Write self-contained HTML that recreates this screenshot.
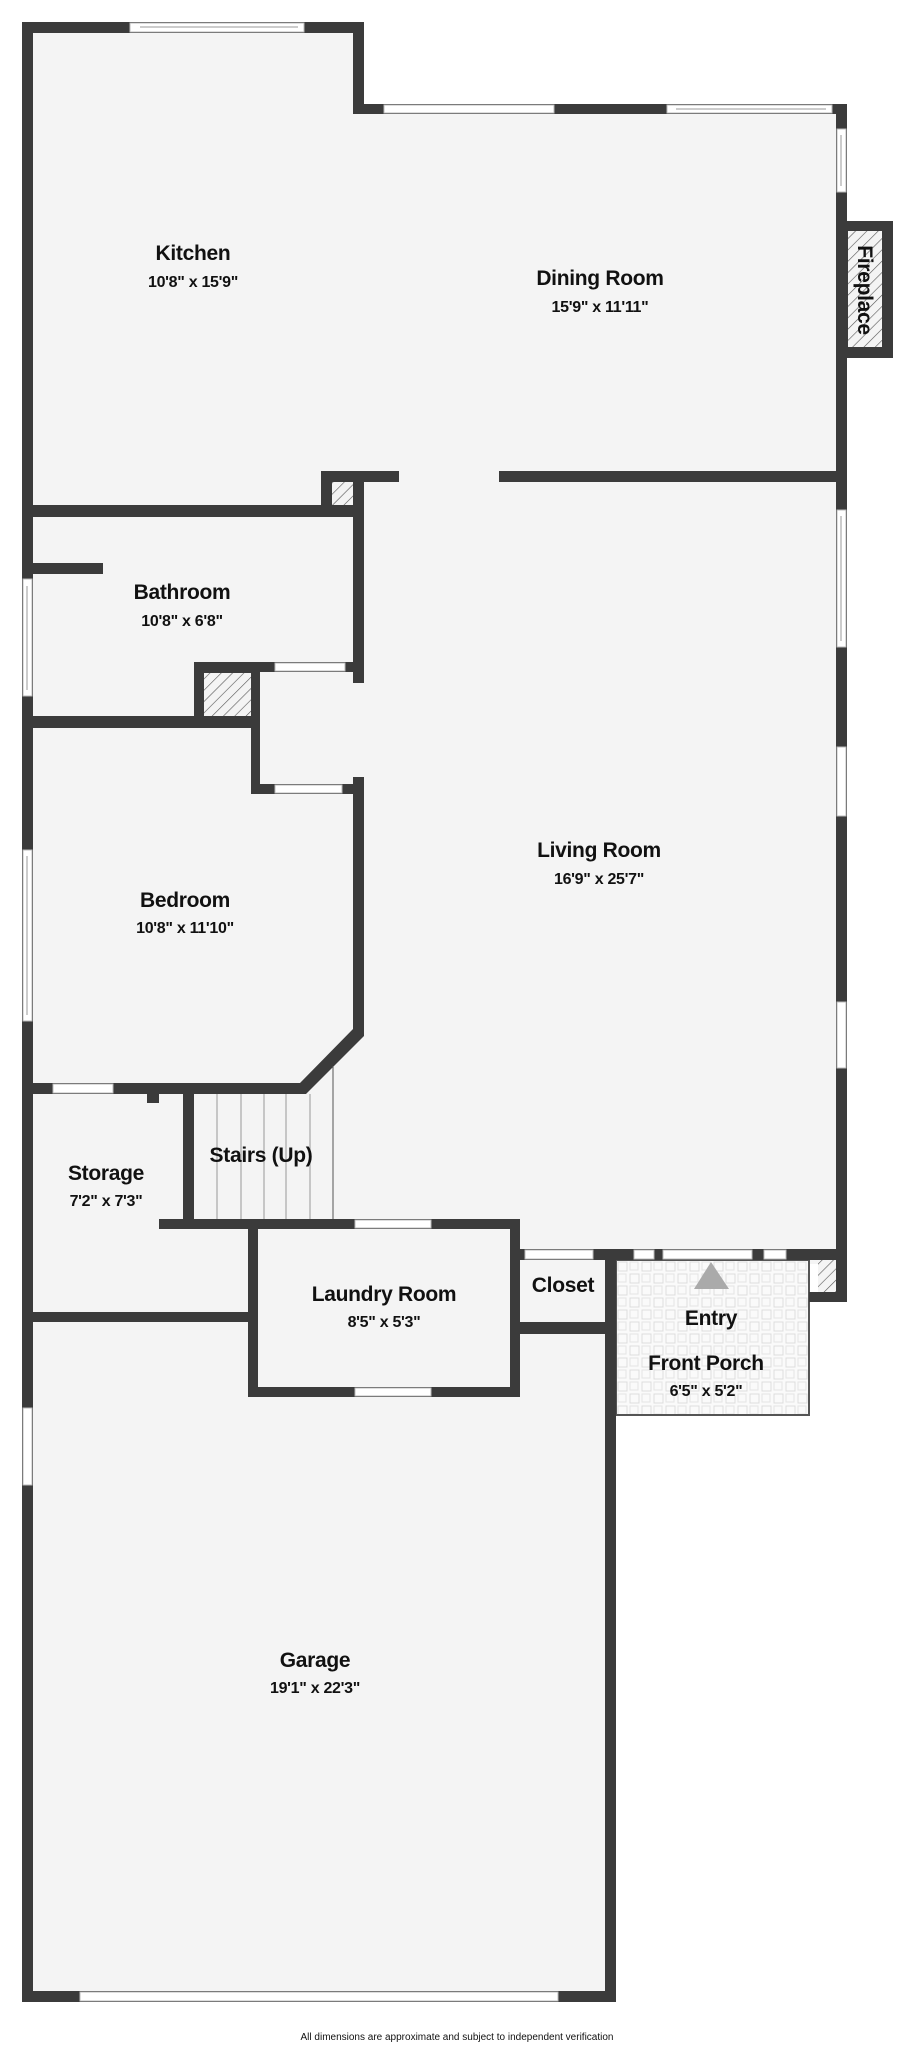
<!DOCTYPE html>
<html><head><meta charset="utf-8"><style>
html,body{margin:0;padding:0;background:#fff;}
svg{display:block;}
text{font-family:"Liberation Sans",sans-serif;font-weight:bold;fill:#111;text-anchor:middle;}
.n{font-size:21px;letter-spacing:-0.3px}
.d{font-size:16px;letter-spacing:-0.3px}
</style></head><body>
<svg width="916" height="2048" viewBox="0 0 916 2048" xmlns="http://www.w3.org/2000/svg">
<defs>
<pattern id="h" width="8" height="8" patternUnits="userSpaceOnUse" patternTransform="rotate(45)">
<rect width="8" height="8" fill="#f4f4f4"/><line x1="0" y1="0" x2="0" y2="8" stroke="#555" stroke-width="1.2"/>
</pattern>
<pattern id="t" width="24" height="24" patternUnits="userSpaceOnUse" x="616" y="1260">
<rect width="24" height="24" fill="#fafafa"/>
<rect x="2" y="2" width="9" height="9" fill="none" stroke="#ddd" stroke-width="1"/>
<rect x="14" y="14" width="9" height="9" fill="none" stroke="#ddd" stroke-width="1"/>
<rect x="14" y="2" width="8" height="8" fill="none" stroke="#e4e4e4" stroke-width="1"/>
<rect x="2" y="14" width="8" height="8" fill="none" stroke="#e4e4e4" stroke-width="1"/>
</pattern>
</defs>
<g fill="#f4f4f4">
<rect x="22" y="22" width="342" height="500"/>
<rect x="353" y="104" width="494" height="1160"/>
<rect x="22" y="505" width="342" height="830"/>
<rect x="22" y="1312" width="594" height="690"/>
<rect x="248" y="1219" width="272" height="178"/>
<rect x="510" y="1249" width="106" height="90"/>
</g>
<rect x="616" y="1260" width="193" height="155" fill="url(#t)" stroke="#555" stroke-width="2"/>
<polygon points="694,1289 711,1262 729,1289" fill="#aaa"/>
<g fill="#3b3b3b">
<rect x="22" y="22" width="11" height="1980"/>
<rect x="22" y="22" width="342" height="11"/>
<rect x="353" y="22" width="11" height="92"/>
<rect x="353" y="104" width="494" height="10"/>
<rect x="836" y="104" width="11" height="1198"/>
<rect x="841" y="221" width="52" height="137"/>
<rect x="321" y="471" width="78" height="11"/>
<rect x="499" y="471" width="348" height="11"/>
<rect x="321" y="471" width="11" height="46"/>
<rect x="22" y="505" width="342" height="12"/>
<rect x="353" y="471" width="11" height="212"/>
<rect x="22" y="563" width="81" height="11"/>
<rect x="194" y="662" width="159" height="10"/>
<rect x="194" y="662" width="66" height="66"/>
<rect x="22" y="716" width="238" height="12"/>
<rect x="251" y="662" width="9" height="132"/>
<rect x="251" y="784" width="113" height="10"/>
<polygon points="353,777 364,777 364,1036 306,1094 22,1094 22,1083 300,1083 353,1029"/>
<rect x="147" y="1090" width="12" height="13"/>
<rect x="183" y="1090" width="11" height="139"/>
<rect x="159" y="1219" width="361" height="10"/>
<rect x="248" y="1219" width="10" height="178"/>
<rect x="510" y="1219" width="10" height="178"/>
<rect x="248" y="1387" width="272" height="10"/>
<rect x="22" y="1312" width="236" height="10"/>
<rect x="510" y="1249" width="337" height="11"/>
<rect x="809" y="1292" width="38" height="10"/>
<rect x="510" y="1322" width="106" height="12"/>
<rect x="605" y="1249" width="11" height="753"/>
<rect x="22" y="1991" width="594" height="11"/>
</g>
<rect x="848" y="231" width="34" height="116" fill="url(#h)"/>
<rect x="332" y="482" width="21" height="23" fill="url(#h)"/>
<rect x="204" y="673" width="47" height="43" fill="url(#h)"/>
<rect x="818" y="1260" width="18" height="32" fill="url(#h)"/>
<g fill="#fff" stroke="#bbb" stroke-width="1">
<rect x="130" y="23" width="174" height="9"/>
<rect x="384" y="105" width="170" height="8"/>
<rect x="667" y="105" width="165" height="8"/>
<rect x="837" y="129" width="9" height="63"/>
<rect x="837" y="510" width="9" height="137"/>
<rect x="837" y="747" width="9" height="69"/>
<rect x="837" y="1002" width="9" height="66"/>
<rect x="23" y="579" width="9" height="117"/>
<rect x="23" y="850" width="9" height="171"/>
<rect x="23" y="1408" width="9" height="77"/>
<rect x="275" y="663" width="70" height="8"/>
<rect x="275" y="785" width="67" height="8"/>
<rect x="53" y="1084" width="60" height="9"/>
<rect x="355" y="1220" width="76" height="8"/>
<rect x="355" y="1388" width="76" height="8"/>
<rect x="525" y="1250" width="68" height="9"/>
<rect x="634" y="1250" width="20" height="9"/>
<rect x="663" y="1250" width="89" height="9"/>
<rect x="764" y="1250" width="22" height="9"/>
<rect x="80" y="1992" width="478" height="9"/>
</g>
<g stroke="#999" stroke-width="1">
<line x1="140" y1="27" x2="298" y2="27"/>
<line x1="676" y1="109" x2="826" y2="109"/>
<line x1="841" y1="135" x2="841" y2="186"/>
<line x1="841" y1="516" x2="841" y2="641"/>
<line x1="27" y1="586" x2="27" y2="690"/>
<line x1="27" y1="856" x2="27" y2="1015"/>
<line x1="217" y1="1094" x2="217" y2="1219"/>
<line x1="241" y1="1094" x2="241" y2="1219"/>
<line x1="264" y1="1094" x2="264" y2="1219"/>
<line x1="286" y1="1094" x2="286" y2="1219"/>
<line x1="310" y1="1094" x2="310" y2="1219"/>
<line x1="333" y1="1066" x2="333" y2="1219" stroke="#555"/>
</g>
<text class="n" x="193" y="260">Kitchen</text>
<text class="d" x="193" y="287">10'8" x 15'9"</text>
<text class="n" x="600" y="285">Dining Room</text>
<text class="d" x="600" y="312">15'9" x 11'11"</text>
<text class="n" transform="translate(858,290) rotate(90)" x="0" y="0">Fireplace</text>
<text class="n" x="182" y="599">Bathroom</text>
<text class="d" x="182" y="626">10'8" x 6'8"</text>
<text class="n" x="599" y="857">Living Room</text>
<text class="d" x="599" y="884">16'9" x 25'7"</text>
<text class="n" x="185" y="907">Bedroom</text>
<text class="d" x="185" y="933">10'8" x 11'10"</text>
<text class="n" x="106" y="1180">Storage</text>
<text class="d" x="106" y="1206">7'2" x 7'3"</text>
<text class="n" x="261" y="1162">Stairs (Up)</text>
<text class="n" x="384" y="1301">Laundry Room</text>
<text class="d" x="384" y="1327">8'5" x 5'3"</text>
<text class="n" x="563" y="1292">Closet</text>
<text class="n" x="711" y="1325">Entry</text>
<text class="n" x="706" y="1370">Front Porch</text>
<text class="d" x="706" y="1396">6'5" x 5'2"</text>
<text class="n" x="315" y="1667">Garage</text>
<text class="d" x="315" y="1693">19'1" x 22'3"</text>
<text x="457" y="2040" style="font-size:10px;font-weight:normal">All dimensions are approximate and subject to independent verification</text>
</svg>
</body></html>
